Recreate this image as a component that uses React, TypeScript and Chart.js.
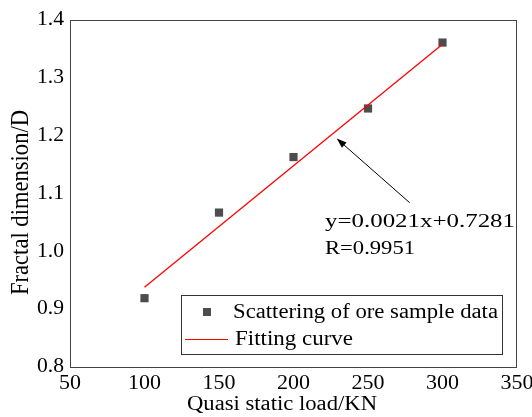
import React, { useEffect, useRef } from "react";
import { Chart, registerables } from "chart.js";

Chart.register(...registerables);

const loads = [100, 150, 200, 250, 300];
const fractalD = [0.919, 1.067, 1.163, 1.247, 1.361];
const fitX = [100, 300];
const fitY = [0.938, 1.358];
const xTicks = [50, 100, 150, 200, 250, 300, 350];
const yTicks = [0.8, 0.9, 1.0, 1.1, 1.2, 1.3, 1.4];
const xTitle = "Quasi static load/KN";
const yTitle = "Fractal dimension/D";
const legendLabels = ["Scattering of ore sample data", "Fitting curve"];
const equationLines = ["y=0.0021x+0.7281", "R=0.9951"];
const arrowFrom = { x: 278, y: 1.084 };
const arrowTo = { x: 229, y: 1.195 };

const FONT = "'Liberation Serif', 'Times New Roman', serif";
const MARKER = "#4d4d4d";

function fitText(ctx: CanvasRenderingContext2D, text: string, x: number, y: number, w: number) {
  const m = ctx.measureText(text).width;
  ctx.save();
  ctx.translate(x, y);
  ctx.scale(w / m, 1);
  ctx.textAlign = "left";
  ctx.fillText(text, 0, 0);
  ctx.restore();
}

function scaledText(ctx: CanvasRenderingContext2D, text: string, x: number, y: number, sx: number, align: "left" | "center" | "right") {
  ctx.save();
  ctx.translate(x, y);
  ctx.scale(sx, 1);
  ctx.textAlign = align;
  ctx.fillText(text, 0, 0);
  ctx.restore();
}

const overlay = {
  id: "overlay",
  afterDraw(chart: any) {
    const { ctx, chartArea: a, scales } = chart;
    const xs = scales.x;
    const ys = scales.y;
    ctx.save();
    // frame
    ctx.strokeStyle = "#444";
    ctx.lineWidth = 1;
    ctx.strokeRect(a.left + 0.5, a.top + 0.5, a.right - a.left - 1, a.bottom - a.top);

    // y tick labels
    ctx.font = `20px ${FONT}`;
    ctx.fillStyle = "#000";
    ctx.textBaseline = "middle";
    yTicks.forEach((v) => {
      scaledText(ctx, v.toFixed(1), a.left - 6, ys.getPixelForValue(v), 1.08, "right");
    });
    // x tick labels
    xTicks.forEach((v) => {
      scaledText(ctx, String(v), xs.getPixelForValue(v), a.bottom + 17, 1.1, "center");
    });

    // arrow
    const x1 = xs.getPixelForValue(arrowFrom.x);
    const y1 = ys.getPixelForValue(arrowFrom.y);
    const x2 = xs.getPixelForValue(arrowTo.x);
    const y2 = ys.getPixelForValue(arrowTo.y);
    const ang = Math.atan2(y2 - y1, x2 - x1);
    const hl = 10;
    const hw = 3.5;
    ctx.strokeStyle = "#000";
    ctx.fillStyle = "#000";
    ctx.lineWidth = 1;
    ctx.beginPath();
    ctx.moveTo(x1, y1);
    ctx.lineTo(x2 - Math.cos(ang) * hl * 0.8, y2 - Math.sin(ang) * hl * 0.8);
    ctx.stroke();
    ctx.beginPath();
    ctx.moveTo(x2, y2);
    ctx.lineTo(x2 - Math.cos(ang) * hl - Math.sin(ang) * hw, y2 - Math.sin(ang) * hl + Math.cos(ang) * hw);
    ctx.lineTo(x2 - Math.cos(ang) * hl + Math.sin(ang) * hw, y2 - Math.sin(ang) * hl - Math.cos(ang) * hw);
    ctx.closePath();
    ctx.fill();

    // equation text
    ctx.font = `19px ${FONT}`;
    ctx.fillStyle = "#000";
    ctx.textBaseline = "alphabetic";
    fitText(ctx, equationLines[0], 325, 227, 190);
    fitText(ctx, equationLines[1], 325, 254, 90);

    // legend
    const lx = 181.5, ly = 295.5, lw = 321, lh = 59;
    ctx.fillStyle = "#fff";
    ctx.fillRect(lx, ly, lw, lh);
    ctx.strokeStyle = "#333";
    ctx.strokeRect(lx, ly, lw, lh);
    ctx.fillStyle = MARKER;
    ctx.fillRect(203, 308, 8, 8);
    ctx.strokeStyle = "red";
    ctx.lineWidth = 1.2;
    ctx.beginPath();
    ctx.moveTo(185, 339.5);
    ctx.lineTo(228, 339.5);
    ctx.stroke();
    ctx.fillStyle = "#000";
    ctx.font = `20px ${FONT}`;
    fitText(ctx, legendLabels[0], 233, 318, 265);
    fitText(ctx, legendLabels[1], 235, 345, 118);

    // x title
    fitText(ctx, xTitle, 187, 410, 190);

    // y title
    ctx.save();
    ctx.translate(28, 295);
    ctx.scale(1.15, 1);
    ctx.rotate(-Math.PI / 2);
    ctx.font = `21px ${FONT}`;
    fitText(ctx, yTitle, 0, 0, 185);
    ctx.restore();
    ctx.restore();
  },
};

export default function App() {
  const ref = useRef<HTMLCanvasElement>(null);
  useEffect(() => {
    if (!ref.current) return;
    const chart = new Chart(ref.current, {
      type: "scatter",
      data: {
        datasets: [
          {
            label: legendLabels[1],
            type: "line",
            data: fitX.map((x, i) => ({ x, y: fitY[i] })),
            borderColor: "red",
            borderWidth: 1.3,
            pointRadius: 0,
            fill: false,
          } as any,
          {
            label: legendLabels[0],
            data: loads.map((x, i) => ({ x, y: fractalD[i] })),
            pointStyle: "rect",
            pointRadius: 5.8,
            backgroundColor: MARKER,
            borderColor: MARKER,
            borderWidth: 0,
          },
        ],
      },
      options: {
        animation: false,
        responsive: false,
        layout: { padding: { top: 20, right: 15, left: 0, bottom: 0 } },
        plugins: { legend: { display: false }, tooltip: { enabled: false } },
        scales: {
          x: {
            type: "linear",
            min: 50,
            max: 350,
            grid: { display: false },
            border: { display: false },
            ticks: { stepSize: 50, display: false },
            afterFit: (s: any) => {
              s.height = 50;
            },
          },
          y: {
            min: 0.8,
            max: 1.4,
            grid: { display: false },
            border: { display: false },
            ticks: { stepSize: 0.1, display: false },
            afterFit: (s: any) => {
              s.width = 70;
            },
          },
        },
      },
      plugins: [overlay],
    });
    return () => chart.destroy();
  }, []);
  return (
    <div style={{ position: "fixed", left: 0, top: 0, width: 532, height: 417, background: "#fff" }}>
      <canvas ref={ref} width={532} height={417} />
    </div>
  );
}
